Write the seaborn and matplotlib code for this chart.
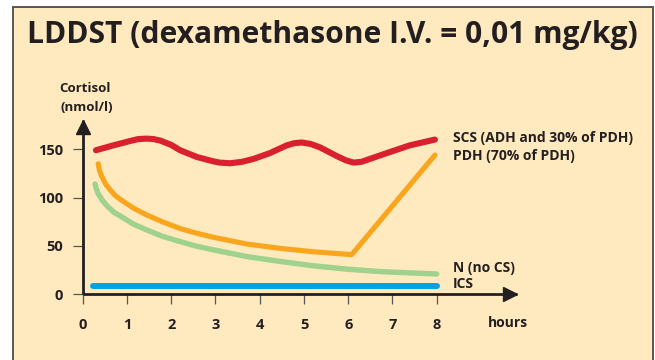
import matplotlib
matplotlib.use("Agg")
import matplotlib.pyplot as plt
import pandas as pd
import seaborn as sns
from matplotlib.patches import Rectangle
from matplotlib.transforms import ScaledTranslation

# ---- data -------------------------------------------------------------
hour_ticks = [0, 1, 2, 3, 4, 5, 6, 7, 8]
cortisol_ticks = [0, 50, 100, 150]

scs_hours = [0.30, 0.69, 1.07, 1.25, 1.45, 1.60, 1.75, 2.00, 2.20, 2.58,
             2.95, 3.10, 3.33, 3.60, 3.86, 4.23, 4.61, 4.78, 4.95, 5.15,
             5.36, 5.74, 5.95, 6.12, 6.30, 6.49, 6.87, 7.39, 7.96]
scs_cortisol = [149, 154, 158.5, 160.5, 161, 160.5, 159, 154.5, 149, 142,
                137.5, 136.2, 135.5, 137, 140, 146, 154, 156.3, 157, 155.5,
                152, 143, 138.5, 136.2, 137, 140, 146, 154, 160]

pdh_hours = [0.35, 0.38, 0.43, 0.52, 0.62, 0.75, 0.92, 1.15, 1.45, 1.80,
             2.20, 2.55, 2.95, 3.71, 4.46, 5.21, 6.08, 7.96]
pdh_cortisol = [135, 128, 122, 114, 108, 101.5, 96, 89, 82, 75,
                68, 63.5, 59, 52, 47.5, 44, 41, 144]

n_hours = [0.28, 0.31, 0.35, 0.44, 0.54, 0.70, 0.92, 1.15, 1.45, 1.80,
           2.20, 2.55, 2.95, 3.71, 4.46, 5.21, 5.97, 6.72, 7.47, 8.0]
n_cortisol = [114, 109, 104, 97.5, 92, 85, 79, 72.5, 66.5, 60,
              54.5, 50, 46, 39, 34, 29.5, 26, 23.5, 22, 21]

ics_hours = [0.24, 8.0]
ics_cortisol = [8.5, 8.5]

series_labels = ["SCS (ADH and 30% of PDH)", "PDH (70% of PDH)",
                 "N (no CS)", "ICS"]
title = "LDDST (dexamethasone I.V. = 0,01 mg/kg)"

# ---- style ------------------------------------------------------------
sns.set_style("white")
plt.rcParams["font.family"] = ["Open Sans", "DejaVu Sans"]
plt.rcParams["font.weight"] = "bold"

INK = "#231f20"
PAPER = "#ffe9be"
RED, ORANGE, GREEN, BLUE = "#d8202e", "#f9a51d", "#9fd28c", "#00a5df"

W, H = 655, 360
fig = plt.figure(figsize=(W / 100, H / 100), dpi=100, facecolor="white")


def fx(px):
    return px / W


def fy(py):
    return 1 - py / H


# framed panel behind everything
fig.patches.append(Rectangle((fx(12.5), -0.05), fx(653) - fx(12.5),
                             fy(7) + 0.05, transform=fig.transFigure,
                             facecolor=PAPER, edgecolor="#4a4a4a", lw=1.3,
                             zorder=-10))

# axes: x=0 at px 82.7, 44.25 px/hour; y=0 at py 294.3, 0.967 px/unit
x0_px, y0_px = 82.7, 294.3
xtip_px, ytip_px = 516.7, 120
ax = fig.add_axes([fx(x0_px), fy(y0_px), (xtip_px - x0_px) / W,
                   (y0_px - ytip_px) / H])
ax.set_facecolor("none")
ax.set_xlim(0, (xtip_px - x0_px) / 44.25)
ax.set_ylim(0, (y0_px - ytip_px) / 0.967)

series = [
    (scs_hours, scs_cortisol, RED, 4.4),
    (pdh_hours, pdh_cortisol, ORANGE, 3.7),
    (n_hours, n_cortisol, GREEN, 3.9),
    (ics_hours, ics_cortisol, BLUE, 4.3),
]
for hrs, cort, col, lw in series[::-1]:
    df = pd.DataFrame({"hours": hrs, "cortisol": cort})
    sns.lineplot(data=df, x="hours", y="cortisol", ax=ax, color=col,
                 linewidth=lw, sort=False, solid_capstyle="round",
                 solid_joinstyle="round", legend=False, clip_on=False)

for side in ("top", "right"):
    ax.spines[side].set_visible(False)
for side in ("left", "bottom"):
    ax.spines[side].set_color(INK)
    ax.spines[side].set_linewidth(2.0)
    ax.spines[side].set_capstyle("butt")

# arrow heads at the ends of both axes, tips on the axis ends
up = ax.plot(0, 1, marker="^", ms=10, color=INK,
             transform=ax.get_xaxis_transform(), clip_on=False)[0]
right = ax.plot(1, 0, marker=">", ms=10, color=INK,
                transform=ax.get_yaxis_transform(), clip_on=False)[0]
up.set_transform(up.get_transform() +
                 ScaledTranslation(0, -5 / 72, fig.dpi_scale_trans))
right.set_transform(right.get_transform() +
                    ScaledTranslation(-5 / 72, 0, fig.dpi_scale_trans))

ax.set_xticks(hour_ticks)
ax.set_xticklabels([str(h) for h in hour_ticks])
ax.set_yticks(cortisol_ticks)
ax.set_yticklabels([str(c) for c in cortisol_ticks])
ax.tick_params(axis="x", bottom=True, direction="out", length=7, width=0.9,
               color="#555555", pad=10, labelsize=10.5, labelcolor=INK)
ax.tick_params(axis="y", left=True, direction="out", length=7, width=0.9,
               color="#555555", pad=7, labelsize=10.5, labelcolor=INK)
for lab in ax.get_xticklabels() + ax.get_yticklabels():
    lab.set_fontweight("bold")
ax.set_xlabel("")
ax.set_ylabel("")

# texts
fig.text(fx(332.5), fy(43.3), title, ha="center", va="baseline",
         fontsize=21.6, fontweight="bold", color=INK)
fig.text(fx(84.7), fy(91.7), "Cortisol", ha="center", va="baseline",
         fontsize=9.5, fontweight="bold", color=INK)
fig.text(fx(86.7), fy(110.7), "(nmol/l)", ha="center", va="baseline",
         fontsize=9.5, fontweight="bold", color=INK)
fig.text(fx(488.3), fy(327.3), "hours", ha="left", va="baseline",
         fontsize=10, fontweight="bold", color=INK)

for label, py in zip(series_labels, [141.7, 160.0, 271.7, 288.3]):
    fig.text(fx(452.7), fy(py), label, ha="left", va="baseline",
             fontsize=10, fontweight="bold", color=INK)

fig.savefig("out.png", dpi=100, facecolor="white")
